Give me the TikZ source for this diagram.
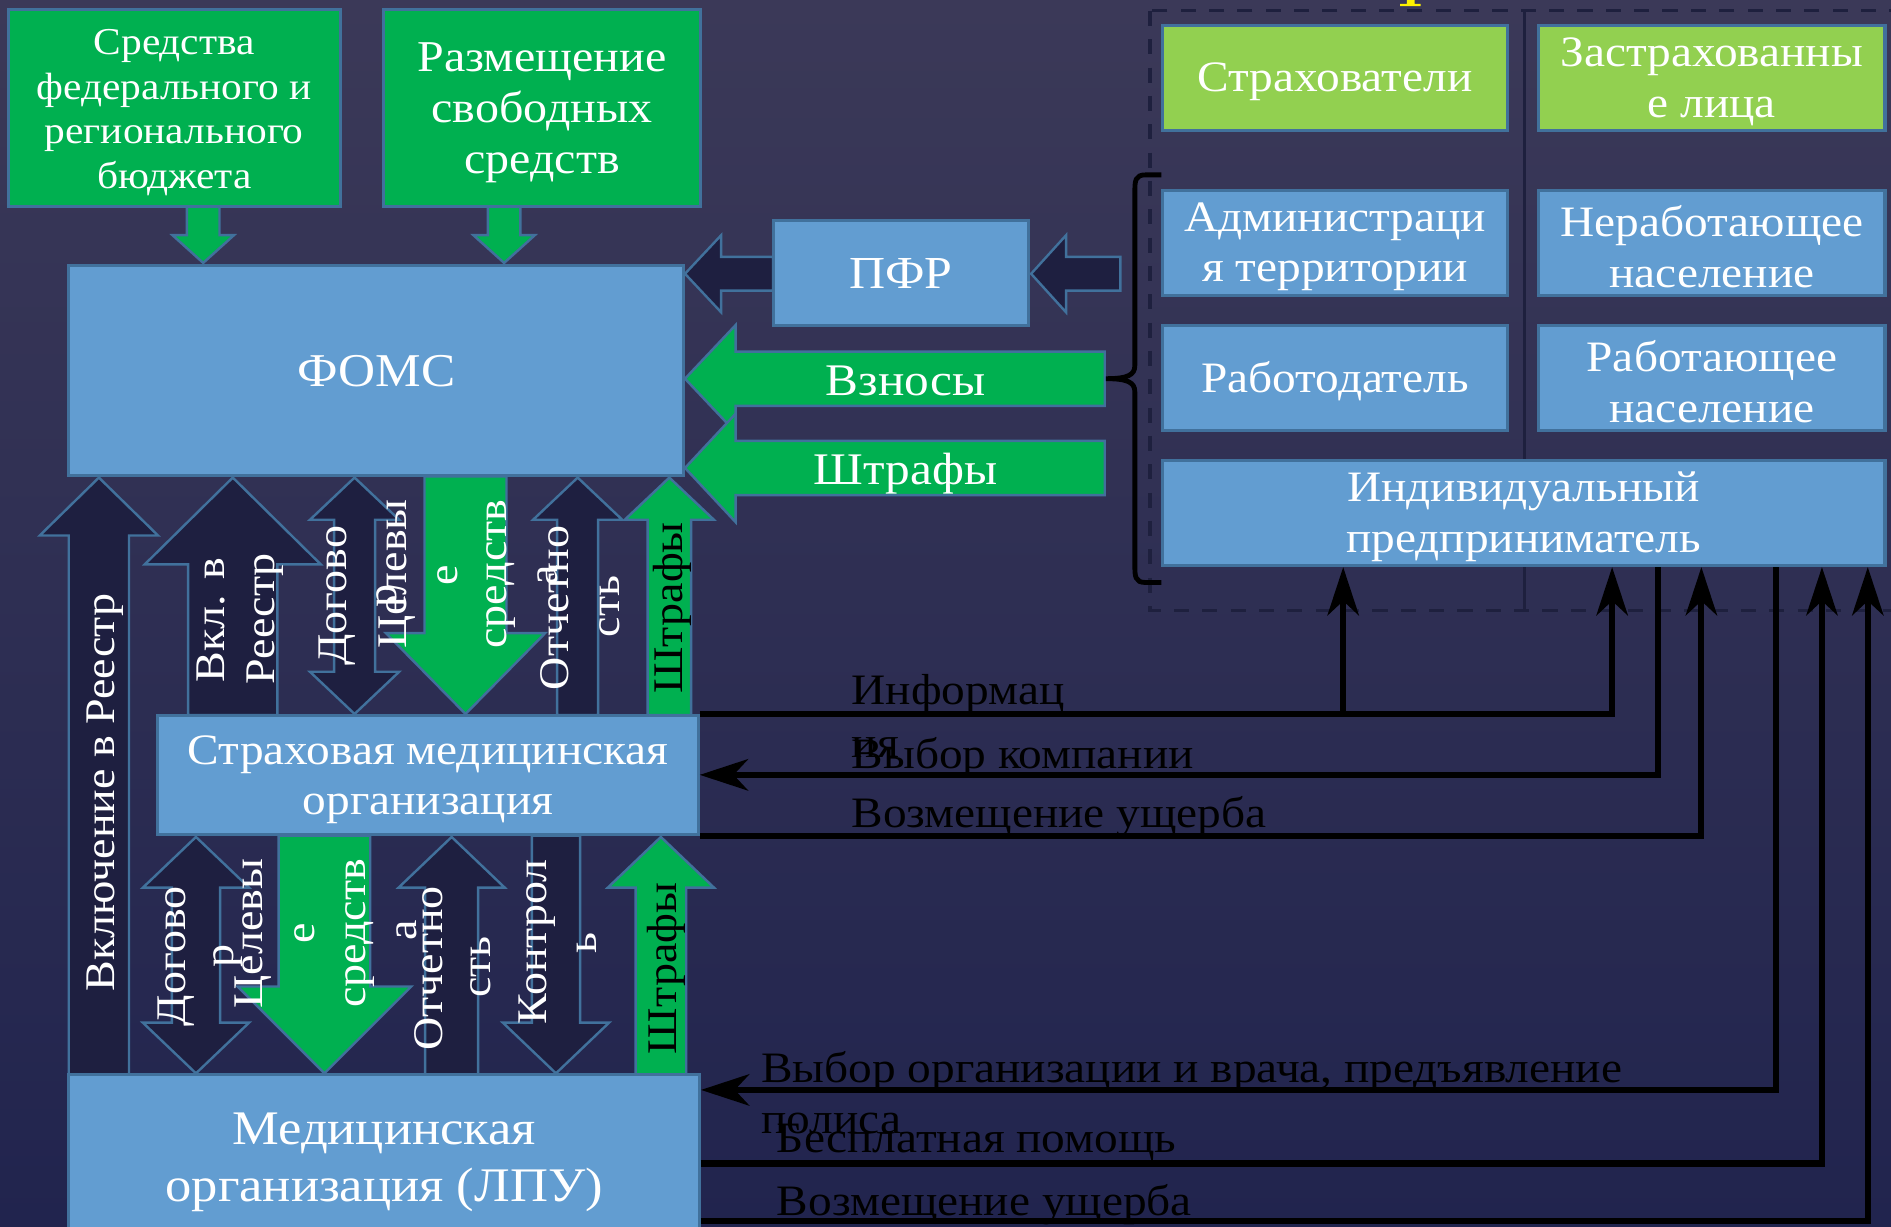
\documentclass[tikz,border=0pt]{standalone}
\usepackage{fontspec}
\setmainfont{Liberation Serif}[FakeStretch=1.09]
\usetikzlibrary{arrows.meta,calc}
\definecolor{bgtop}{RGB}{59,57,88}
\definecolor{bgbot}{RGB}{33,36,78}
\definecolor{gr}{RGB}{0,176,80}
\definecolor{lgr}{RGB}{146,208,80}
\definecolor{bl}{RGB}{98,157,209}
\definecolor{bord}{RGB}{65,113,156}
\definecolor{dk}{RGB}{30,31,64}
\definecolor{dashc}{RGB}{30,32,62}
\newcommand\fs[2]{\fontsize{#1}{#2}\selectfont}
% vertical block arrow: x, tip y, end y, half shaft, half head, head length (signed), fill
\newcommand\blkV[7]{\filldraw[barrow,fill=#7] (#1,#2) -- ({#1+(#5)},{#2+(#6)}) -- ({#1+(#4)},{#2+(#6)}) -- ({#1+(#4)},#3) -- ({#1-(#4)},#3) -- ({#1-(#4)},{#2+(#6)}) -- ({#1-(#5)},{#2+(#6)}) -- cycle;}
% double vertical block arrow: x, top tip, bottom tip, half shaft, half head, head length, fill
\newcommand\blkD[7]{\filldraw[barrow,fill=#7] (#1,#2) -- ({#1+(#5)},{#2+(#6)}) -- ({#1+(#4)},{#2+(#6)}) -- ({#1+(#4)},{#3-(#6)}) -- ({#1+(#5)},{#3-(#6)}) -- (#1,#3) -- ({#1-(#5)},{#3-(#6)}) -- ({#1-(#4)},{#3-(#6)}) -- ({#1-(#4)},{#2+(#6)}) -- ({#1-(#5)},{#2+(#6)}) -- cycle;}
% horizontal block arrow: y, tip x, end x, half shaft, half head, head length, fill
\newcommand\blkH[7]{\filldraw[barrow,fill=#7] (#2,#1) -- ({#2+(#6)},{#1-(#5)}) -- ({#2+(#6)},{#1-(#4)}) -- (#3,{#1-(#4)}) -- (#3,{#1+(#4)}) -- ({#2+(#6)},{#1+(#4)}) -- ({#2+(#6)},{#1+(#5)}) -- cycle;}
\tikzset{
 box/.style={draw=bord, line width=2.5, inner sep=0},
 btxt/.style={inner sep=0, align=center, text=white},
 barrow/.style={draw=bord, line width=2},
 vlab/.style={rotate=90, anchor=base, inner sep=0, font=\fs{35}{42}},
 hlab/.style={anchor=base west, inner sep=0, font=\fs{36}{42}, text=black},
 conn/.style={line width=5, draw=black},
 tipc/.style={-{Stealth[length=40pt,width=26pt,inset=12pt]}},
}
\begin{document}
\begin{tikzpicture}[x=1pt,y=-1pt]
\useasboundingbox (0,0) rectangle (1568,1017);
\fill[top color=bgtop,bottom color=bgbot] (0,0) rectangle (1568,1017);
\fill[yellow] (1166.5,0) rectangle (1173,3.5) (1161,3.3) rectangle (1178,5);
\draw[dashc, line width=2.7, dash pattern=on 12.5pt off 11pt] (953.5,9) rectangle (1580,506);
\draw[dashc, line width=2] (1264,9) -- (1264,506);

% block arrows
\blkV{168.5}{218}{171}{13.5}{25.5}{-23}{gr}
\blkV{418}{218}{171}{13.5}{25.5}{-23}{gr}
\blkH{227}{568}{641}{14}{32}{30}{dk}
\blkH{227}{855}{929}{14}{32}{29}{dk}
\blkH{314}{568}{916}{22.5}{44.5}{42}{gr}
\blkH{388}{568}{916}{22.5}{45}{42}{gr}
\blkV{82}{396}{892}{25}{49}{48}{dk}
\blkV{193}{396}{593}{37}{73}{72}{dk}
\blkD{294}{396}{592}{17}{37}{35}{dk}
\blkV{386}{592}{395}{34}{66}{-67}{gr}
\blkV{479}{396}{593}{17}{37}{35}{dk}
\blkV{555}{396}{593}{18}{37}{35}{gr}
\blkD{162.5}{694}{890}{20}{44}{42}{dk}
\blkV{269}{890}{693}{38}{72}{-72}{gr}
\blkV{374.5}{694}{891}{22}{44}{42}{dk}
\blkV{461}{890}{693}{20}{44}{-42}{dk}
\blkV{548}{694}{891}{21}{44}{42}{gr}

% boxes
\node[box,fill=gr,minimum width=275,minimum height=163] (b1) at (144.5,89.5) {};
\node[box,fill=gr,minimum width=263,minimum height=163] (b2) at (449.5,89.5) {};
\node[box,fill=bl,minimum width=510,minimum height=174] (foms) at (312,307.5) {};
\node[box,fill=bl,minimum width=212,minimum height=87] (pfr) at (747,226.5) {};
\node[box,fill=lgr,minimum width=286,minimum height=87] (strah) at (1107,64.7) {};
\node[box,fill=lgr,minimum width=287,minimum height=87] (zastr) at (1419.5,64.7) {};
\node[box,fill=bl,minimum width=286,minimum height=87] (adm) at (1107,201.5) {};
\node[box,fill=bl,minimum width=287,minimum height=87] (nerab) at (1419.5,201.5) {};
\node[box,fill=bl,minimum width=286,minimum height=87] (rabd) at (1107,313.3) {};
\node[box,fill=bl,minimum width=287,minimum height=87] (rabn) at (1419.5,313.3) {};
\node[box,fill=bl,minimum width=599,minimum height=87] (ip) at (1263.5,425.5) {};
\node[box,fill=bl,minimum width=448,minimum height=99] (smo) at (355,642.5) {};
\node[box,fill=bl,minimum width=523,minimum height=140] (lpu) at (318.5,961) {};

% box texts
\node[btxt,font=\fs{31.5}{37}] (b1t) at ([yshift=-4pt]b1.center) {Средства\\федерального и\\регионального\\бюджета};
\node[btxt,font=\fs{36.5}{42}] (b2t) at ([yshift=-4pt]b2.center) {Размещение\\свободных\\средств};
\node[btxt,font=\fs{39}{46}] (fomst) at (foms.center) {ФОМС};
\node[btxt,font=\fs{38}{44}] (pfrt) at (pfr.center) {ПФР};
\node[btxt,font=\fs{36}{42}] (straht) at ([yshift=-3pt]strah.center) {Страхователи};
\node[btxt,font=\fs{36}{42}] (zastrt) at ([yshift=-3pt]zastr.center) {Застрахованны\\е лица};
\node[btxt,font=\fs{36}{42}] (admt) at ([yshift=-3pt]adm.center) {Администраци\\я территории};
\node[btxt,font=\fs{36}{42}] (nerabt) at ([yshift=-3pt]nerab.center) {Неработающее\\население};
\node[btxt,font=\fs{36}{42}] (rabdt) at ([yshift=-3pt]rabd.center) {Работодатель};
\node[btxt,font=\fs{36}{42}] (rabnt) at ([yshift=-3pt]rabn.center) {Работающее\\население};
\node[btxt,font=\fs{36}{42}] (ipt) at ([yshift=-3pt]ip.center) {Индивидуальный\\предприниматель};
\node[btxt,font=\fs{36}{42}] (smot) at ([yshift=-4pt]smo.center) {Страховая медицинская\\организация};
\node[btxt,font=\fs{40}{47}] (lput) at ([yshift=-3pt]lpu.center) {Медицинская\\организация (ЛПУ)};

% labels on horizontal block arrows
\node[anchor=base,inner sep=0,text=white,font=\fs{37.5}{44}] (tvz) at (751,328) {Взносы};
\node[anchor=base,inner sep=0,text=white,font=\fs{37.5}{44}] (tsh) at (751,401.6) {Штрафы};

% vertical labels
\node[vlab,text=white] (v1) at (95,657) {Включение в Реестр};
\node[vlab,text=white] (v2a) at (186.5,514) {Вкл. в};
\node[vlab,text=white] (v2b) at (228,513) {Реестр};
\node[vlab,text=white] (v3a) at (287,494) {Догово};
\node[vlab,text=white] (v3b) at (329,494) {р};
\node[vlab,text=white] (v4a) at (337,476) {Целевы};
\node[vlab,text=white] (v4b) at (379,477) {е};
\node[vlab,text=white] (v4c) at (420,476) {средств};
\node[vlab,text=white] (v4d) at (462,477) {а};
\node[vlab,text=white] (v5a) at (471,504) {Отчетно};
\node[vlab,text=white] (v5b) at (514,503) {сть};
\node[vlab,text=black] (v6) at (566,504) {Штрафы};
\node[vlab,text=white] (w1a) at (154,793) {Догово};
\node[vlab,text=white] (w1b) at (194,793) {р};
\node[vlab,text=white] (w2a) at (218,774) {Целевы};
\node[vlab,text=white] (w2b) at (261,774) {е};
\node[vlab,text=white] (w2c) at (303,774) {средств};
\node[vlab,text=white] (w2d) at (345,771) {а};
\node[vlab,text=white] (w3a) at (367,803) {Отчетно};
\node[vlab,text=white] (w3b) at (407,802) {сть};
\node[vlab,text=white] (w4a) at (453,781) {Контрол};
\node[vlab,text=white] (w4b) at (495,782) {ь};
\node[vlab,text=black] (w5) at (561,803) {Штрафы};

% brace
\draw[line width=4] (963,145) -- (950,145) .. controls (941,145) and (941,150) .. (941,160) -- (941,303) .. controls (941,311) and (935,314) .. (917,314) .. controls (935,314) and (941,317) .. (941,325) -- (941,468) .. controls (941,478) and (941,483) .. (950,483) -- (963,483);

% connectors
\coordinate (ipA) at ($(ip.south west)+(151,0)$);
\coordinate (ipB) at ($(ip.south west)+(374,0)$);
\coordinate (ipC) at ($(ip.south west)+(412,0)$);
\coordinate (ipD) at ($(ip.south west)+(448,0)$);
\coordinate (ipE) at ($(ip.south west)+(510,0)$);
\coordinate (ipF) at ($(ip.south west)+(548,0)$);
\coordinate (ipG) at ($(ip.south west)+(586,0)$);
\coordinate (lpu1) at ($(lpu.north east)+(0,14)$);
\coordinate (lpu2) at ($(lpu.north east)+(0,75)$);
\coordinate (lpu3) at ($(lpu.north east)+(0,123)$);
\draw[conn,tipc] (smo.north east) -| (ipB);
\draw[conn,tipc] (ipA |- smo.north east) -- (ipA);
\draw[conn,tipc] (ipC) |- (smo.east);
\draw[conn,tipc] (smo.south east) -| (ipD);
\draw[conn,tipc] (ipE) |- (lpu1);
\draw[conn,tipc] (lpu2) -| (ipF);
\draw[conn,tipc] (lpu3) -| (ipG);

% connector labels
\node[hlab] (l1a) at (706,584) {Информац};
\node[hlab] (l1b) at (706,628) {ия};
\node[hlab] (l2) at (706,637) {Выбор компании};
\node[hlab] (l3) at (706,686) {Возмещение ущерба};
\node[hlab] (l4a) at (631,898) {Выбор организации и врача, предъявление};
\node[hlab] (l4b) at (631,940) {полиса};
\node[hlab] (l5) at (644,956) {Бесплатная помощь};
\node[hlab] (l6) at (644,1008) {Возмещение ущерба};
\end{tikzpicture}
\end{document}
